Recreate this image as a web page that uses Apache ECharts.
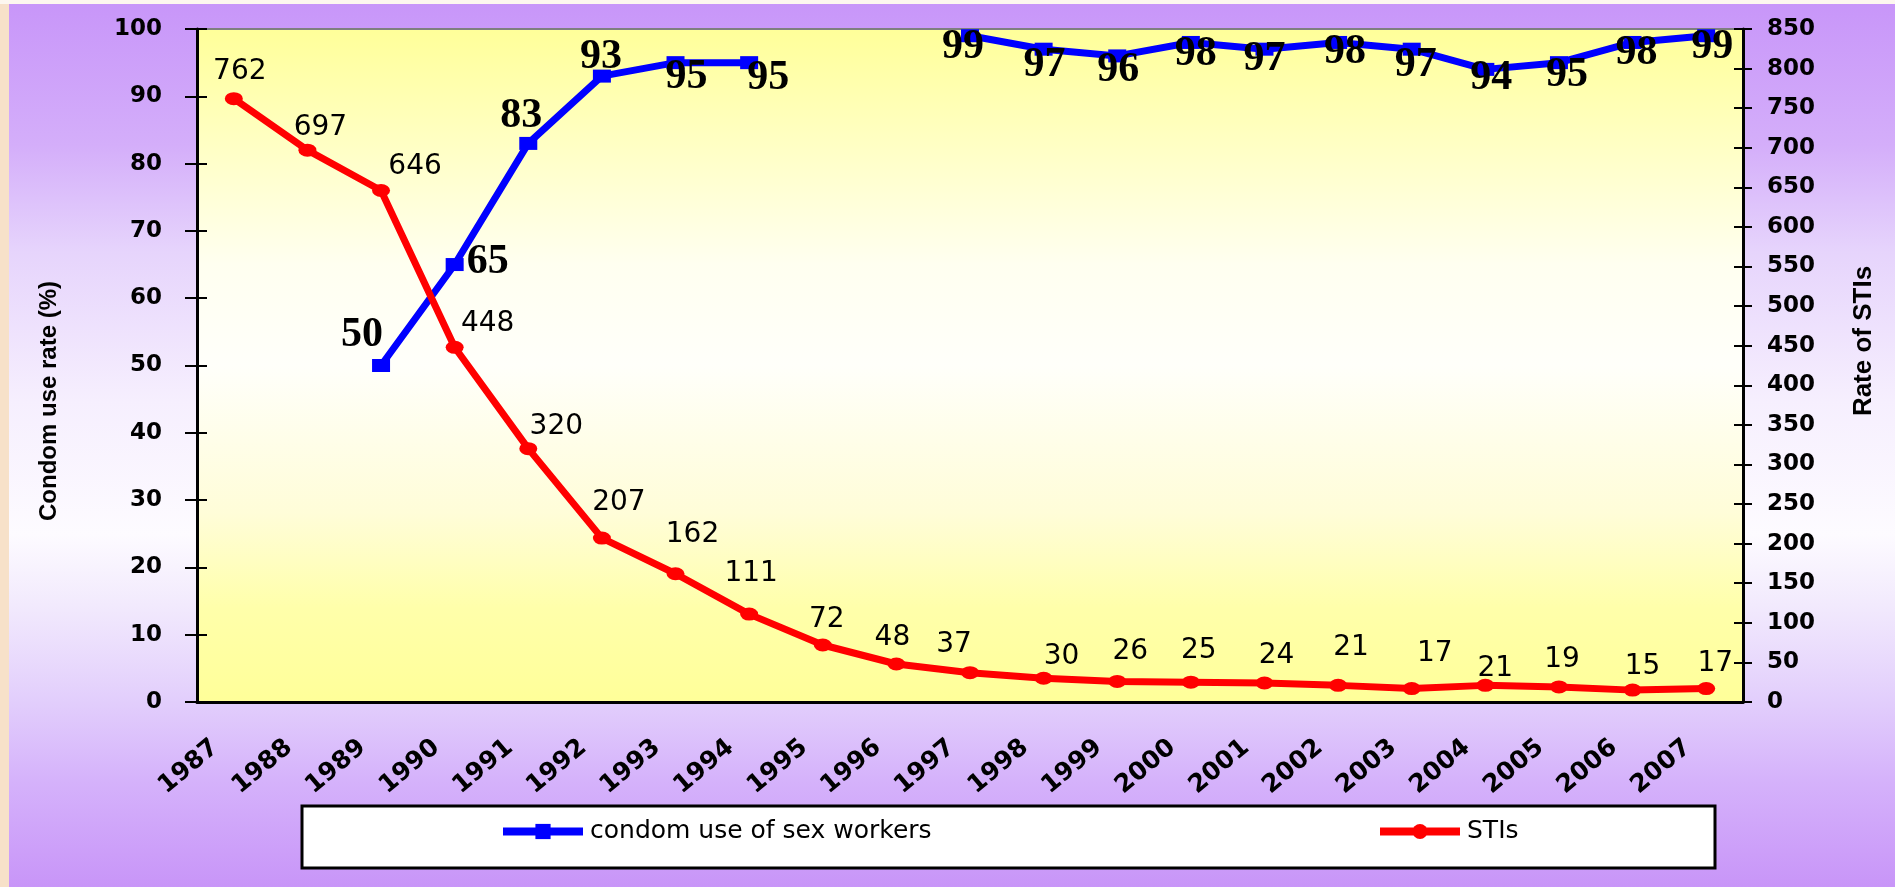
<!DOCTYPE html>
<html>
<head>
<meta charset="utf-8">
<title>Condom use of sex workers and STIs</title>
<script src="https://cdn.jsdelivr.net/npm/echarts/dist/echarts.min.js"></script>
<style>
    html, body {
        margin: 0;
        padding: 0;
        width: 1895px;
        height: 887px;
        overflow: hidden;
        background: #f7e1c9;
    }
    #strip {
        position: absolute;
        left: 0;
        top: 0;
        width: 1895px;
        height: 4px;
        background: #fdf7ef;
    }
    #panel {
        position: absolute;
        left: 9px;
        top: 4px;
        width: 1886px;
        height: 883px;
        background: linear-gradient(to bottom,
            #c896f9 0%, #d4aefa 16%, #e6d4fc 28%, #f6effe 45%, #fdfbff 60%,
            #f2eafd 68%, #e2cefc 79%, #d5b2fb 88%, #c895f8 100%);
    }
    #main {
        position: absolute;
        left: 0;
        top: 0;
        width: 1895px;
        height: 887px;
    }
</style>
</head>
<body>
<div id="strip"></div>
<div id="panel"></div>
<div id="main"></div>
<script>
// data
const years = ['1987', '1988', '1989', '1990', '1991', '1992', '1993', '1994', '1995', '1996', '1997',
    '1998', '1999', '2000', '2001', '2002', '2003', '2004', '2005', '2006', '2007'];
const condomUse = [null, null, 50, 65, 83, 93, 95, 95, null, null, 99, 97, 96, 98, 97, 98, 97, 94, 95, 98, 99];
const stiRate = [762, 697, 646, 448, 320, 207, 162, 111, 72, 48, 37, 30, 26, 25, 24, 21, 17, 21, 19, 15, 17];

const leftAxis = { min: 0, max: 100, interval: 10 };
const rightAxis = { min: 0, max: 850, interval: 50 };

// where each value label sits relative to its point (px)
const condomLabelOffset = [null, null, [-19, -30], [33, -2], [-7, -27], [-1, -19], [11, 15], [19, 16], null, null,
    [-7, 11], [1, 16], [1, 14], [5, 12], [0, 10], [7, 10], [4, 16], [6, 9], [8, 13], [4, 11], [6, 11]];
const stiLabelOffset = [[6, -27], [13, -22], [34, -24], [33, -24], [28, -22], [17, -35], [17, -39], [2, -40],
    [4, -25], [-4, -26], [-16, -28], [18, -22], [13, -30], [8, -31], [12, -27], [13, -38], [23, -35],
    [10, -17], [3, -27], [10, -23], [9, -25]];

const chart = echarts.init(document.getElementById('main'));

const tickStyle = { color: '#000', width: 2 };
const boldNum = { fontFamily: 'DejaVu Sans', fontWeight: 'bold', fontSize: 23, color: '#000' };
const legendText = { fontFamily: 'DejaVu Sans', fontSize: 25, color: '#000', padding: [0, 0, 0, 2] };

const option = {
    animation: false,
    grid: {
        left: 197,
        right: 152,
        top: 29,
        bottom: 185,
        show: true,
        borderColor: '#7f7f7f',
        borderWidth: 2,
        backgroundColor: new echarts.graphic.LinearGradient(0, 0, 0, 1, [
            { offset: 0, color: '#ffff99' },
            { offset: 0.35, color: '#fffff0' },
            { offset: 0.5, color: '#fffffa' },
            { offset: 0.72, color: '#fffdd8' },
            { offset: 0.86, color: '#ffffaa' },
            { offset: 1, color: '#ffff99' }
        ]),
        outerBoundsMode: 'none'
    },
    graphic: [
        {
            type: 'rect',
            z: 1,
            shape: { x: 302, y: 806, width: 1413, height: 62 },
            style: { fill: '#fff', stroke: '#000', lineWidth: 3 }
        },
        {
            type: 'text',
            x: 49,
            y: 401,
            rotation: Math.PI / 2,
            style: {
                text: 'Condom use rate (%)',
                fontFamily: 'Liberation Sans',
                fontWeight: 'bold',
                fontSize: 24,
                fill: '#000',
                align: 'center',
                verticalAlign: 'middle'
            }
        },
        {
            type: 'text',
            x: 1864,
            y: 341,
            rotation: Math.PI / 2,
            style: {
                text: 'Rate of STIs',
                fontFamily: 'Liberation Sans',
                fontWeight: 'bold',
                fontSize: 26,
                fill: '#000',
                align: 'center',
                verticalAlign: 'middle'
            }
        }
    ],
    legend: [
        {
            data: ['condom use of sex workers'],
            left: 499,
            top: 819,
            padding: 0,
            itemWidth: 80,
            itemHeight: 19,
            itemGap: 0,
            lineStyle: { width: 8 },
            textStyle: legendText
        },
        {
            data: ['STIs'],
            left: 1376,
            top: 819,
            padding: 0,
            itemWidth: 80,
            itemHeight: 19,
            itemGap: 0,
            lineStyle: { width: 8 },
            textStyle: legendText
        }
    ],
    xAxis: [
        {
            type: 'category',
            data: years,
            boundaryGap: true,
            axisLine: { lineStyle: { color: '#000', width: 3 } },
            axisTick: { length: 9, lineStyle: tickStyle },
            axisLabel: {
                interval: 0,
                rotate: 40,
                margin: 27,
                padding: [0, 24, 0, 0],
                ...boldNum,
                fontSize: 25
            },
            splitLine: { show: false }
        },
        {
            // inner half of the crossing tick marks
            type: 'category',
            data: years,
            position: 'bottom',
            axisLine: { show: false },
            axisTick: { inside: true, length: 8, lineStyle: tickStyle },
            axisLabel: { show: false },
            splitLine: { show: false }
        }
    ],
    yAxis: [
        {
            type: 'value',
            position: 'left',
            ...leftAxis,
            axisLine: { show: true, lineStyle: { color: '#000', width: 3 } },
            axisTick: { show: true, length: 12, lineStyle: tickStyle },
            axisLabel: { margin: 35, ...boldNum },
            splitLine: { show: false }
        },
        {
            type: 'value',
            position: 'right',
            ...rightAxis,
            axisLine: { show: true, lineStyle: { color: '#000', width: 3 } },
            axisTick: { show: true, length: 9, lineStyle: tickStyle },
            axisLabel: { margin: 24, ...boldNum },
            splitLine: { show: false }
        },
        {
            type: 'value',
            position: 'left',
            ...leftAxis,
            axisLine: { show: false },
            axisTick: { show: true, inside: true, length: 10, lineStyle: tickStyle },
            axisLabel: { show: false },
            splitLine: { show: false }
        },
        {
            type: 'value',
            position: 'right',
            ...rightAxis,
            axisLine: { show: false },
            axisTick: { show: true, inside: true, length: 9, lineStyle: tickStyle },
            axisLabel: { show: false },
            splitLine: { show: false }
        }
    ],
    series: [
        {
            name: 'condom use of sex workers',
            type: 'line',
            xAxisIndex: 0,
            yAxisIndex: 0,
            data: condomUse.map((v, i) => v === null ? '-' : { value: v, label: { offset: condomLabelOffset[i] } }),
            color: '#0000ff',
            symbol: 'rect',
            symbolSize: [18, 13],
            showAllSymbol: true,
            lineStyle: { width: 7, color: '#0000ff' },
            itemStyle: { color: '#0000ff' },
            label: {
                show: true,
                position: 'inside',
                fontFamily: 'Liberation Serif',
                fontWeight: 'bold',
                fontSize: 42,
                color: '#000'
            },
            z: 2
        },
        {
            name: 'STIs',
            type: 'line',
            xAxisIndex: 0,
            yAxisIndex: 1,
            data: stiRate.map((v, i) => ({ value: v, label: { offset: stiLabelOffset[i] } })),
            color: '#ff0000',
            symbol: 'circle',
            symbolSize: [18, 13],
            showAllSymbol: true,
            lineStyle: { width: 7, color: '#ff0000' },
            itemStyle: { color: '#ff0000' },
            label: {
                show: true,
                position: 'inside',
                fontFamily: 'DejaVu Sans',
                fontSize: 28,
                color: '#000'
            },
            z: 3
        }
    ]
};

chart.setOption(option);
window.addEventListener('resize', () => chart.resize());
</script>
</body>
</html>
